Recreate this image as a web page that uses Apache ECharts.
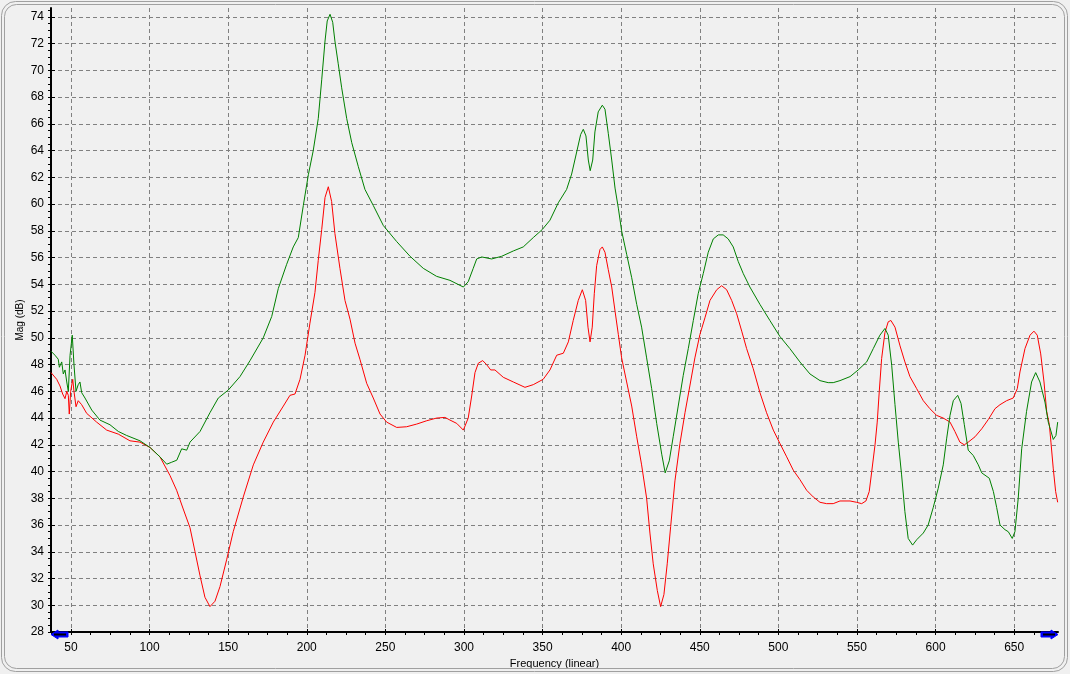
<!DOCTYPE html>
<html>
<head>
<meta charset="utf-8">
<script src="https://cdn.jsdelivr.net/npm/echarts@6/dist/echarts.min.js"></script>
<style>
html,body{margin:0;padding:0;background:#f0f0f0;}
#chart{width:1070px;height:674px;}
</style>
</head>
<body>
<div id="chart"></div>
<script>
// Green trace (frequency in Hz, magnitude in dB)
const greenFreq = [37.3,39.8,41.9,42.6,44.1,45.1,46.2,47.3,48.3,49.4,50.8,51.9,53.2,54.6,55.7,56.8,58.9,63.2,68.4,74.8,80.1,85.4,93.9,100.3,106.6,110.9,114.1,117.3,120.4,123.6,125.7,132.1,138.4,143.7,150.1,157.5,163.9,172.3,177.7,181.9,187.2,191.4,194.6,197.8,201.0,204.1,207.3,209.5,211.6,213.0,214.8,216.5,217.9,220.0,222.2,225.4,228.6,232.8,237.0,242.3,248.7,257.2,265.7,274.1,282.6,291.1,299.6,302.7,305.9,308.1,311.3,317.6,324.0,331.4,337.7,344.1,349.8,354.7,360.0,365.3,368.5,371.7,374.2,375.9,377.6,379.1,380.3,381.9,383.3,385.4,388.0,389.7,391.8,394.0,396.1,398.2,400.3,403.5,406.7,409.9,413.0,416.2,419.4,422.6,425.8,428.0,430.6,433.1,436.3,439.5,442.7,445.9,449.0,452.2,455.4,458.6,461.8,464.9,468.1,471.3,474.5,477.7,481.9,488.3,494.6,501.0,507.3,513.7,520.1,526.5,531.7,534.9,539.2,545.6,550.8,556.2,560.4,564.6,567.8,569.9,572.1,574.2,576.3,578.4,580.5,582.6,585.4,588.0,592.2,595.3,598.5,601.7,604.9,607.1,609.2,611.3,614.1,616.2,618.3,620.8,624.0,627.2,629.4,634.2,636.8,638.9,641.0,644.2,646.3,648.8,650.5,652.6,654.8,657.9,661.1,663.7,666.4,669.6,671.7,673.2,674.9,676.6,677.7];
const greenMag = [49.0,48.7,48.4,47.8,48.2,47.3,47.6,46.7,46.0,48.7,50.2,48.0,46.0,46.5,46.7,45.9,45.5,44.6,43.85,43.5,43.0,42.7,42.3,41.8,41.1,40.55,40.7,40.85,41.7,41.6,42.2,43.0,44.4,45.5,46.1,47.1,48.3,50.0,51.6,53.7,55.5,56.8,57.5,59.9,62.2,64.0,66.4,69.3,72.2,73.7,74.2,73.6,72.2,70.5,68.7,66.4,64.6,62.8,61.1,59.9,58.4,57.2,56.1,55.2,54.6,54.3,53.8,54.2,55.2,55.9,56.05,55.9,56.1,56.5,56.8,57.5,58.1,58.8,60.1,61.1,62.25,63.9,65.2,65.6,65.1,63.3,62.5,63.3,65.4,66.9,67.4,67.1,65.3,63.3,61.2,59.7,58.0,56.25,54.5,52.5,50.8,48.5,46.2,43.6,41.3,39.9,40.8,42.6,44.9,47.2,49.2,51.3,53.3,54.8,56.4,57.4,57.7,57.7,57.4,56.8,55.7,54.8,53.8,52.5,51.3,50.1,49.2,48.2,47.3,46.8,46.65,46.65,46.8,47.1,47.6,48.2,49.2,50.2,50.7,50.2,47.95,45.0,42.2,39.75,37.0,35.0,34.5,34.9,35.4,36.0,37.3,38.75,40.5,42.5,44.2,45.3,45.7,45.1,43.5,41.6,41.2,40.5,39.9,39.5,38.5,37.3,36.0,35.65,35.5,35.0,35.5,38.0,41.7,44.5,46.7,47.4,46.7,45.2,43.7,43.1,42.4,42.7,43.7];

// Red trace (frequency in Hz, magnitude in dB)
const redFreq = [37.3,40.9,43.0,44.7,46.2,47.3,48.3,48.9,49.8,51.1,51.9,53.2,54.6,56.8,60.0,66.3,72.7,80.1,87.5,93.9,100.3,106.6,113.0,117.2,121.4,125.7,128.9,132.1,135.2,138.4,141.6,144.8,149.0,153.2,159.6,166.0,172.3,178.7,185.1,189.3,192.5,195.7,198.9,202.0,205.2,207.3,209.5,211.6,213.7,215.8,217.9,221.1,224.3,227.5,230.7,233.8,238.1,242.3,246.6,250.8,257.2,263.5,269.9,276.3,282.6,287.9,291.1,295.4,299.6,302.7,304.9,307.0,309.1,311.9,314.4,317.0,319.7,325.0,331.4,338.8,344.1,350.4,354.7,359.0,363.2,366.4,369.5,372.7,375.3,377.4,378.9,380.2,381.6,382.9,384.4,386.5,388.0,389.7,391.8,394.0,396.1,398.2,400.3,403.5,406.7,409.9,413.0,416.2,418.3,420.4,423.0,425.1,427.2,429.3,431.5,434.2,437.4,440.6,443.7,446.9,450.1,453.3,456.5,460.8,463.9,467.1,470.3,473.5,476.7,479.8,484.0,488.3,492.5,496.8,501.0,505.3,509.5,513.7,518.0,522.2,526.5,530.7,534.9,539.2,545.6,549.8,553.0,555.7,557.8,559.4,561.5,562.9,564.2,565.7,567.8,569.9,571.6,574.2,577.4,580.5,583.7,588.0,592.2,596.4,600.7,604.9,609.2,612.3,615.5,618.3,620.8,625.1,629.4,633.6,637.8,641.0,645.2,649.4,652.0,653.7,656.9,660.1,662.6,664.7,666.9,669.0,670.7,672.4,673.4,674.9,676.4,677.7];
const redMag = [47.4,46.9,46.4,45.8,45.45,46.0,45.7,44.3,46.0,46.9,46.0,44.85,45.3,45.0,44.35,43.7,43.1,42.8,42.3,42.2,41.8,41.1,39.7,38.6,37.2,35.8,34.0,32.2,30.6,29.9,30.3,31.4,33.4,35.5,38.1,40.5,42.2,43.7,44.9,45.7,45.8,46.9,48.7,51.1,53.4,55.8,58.1,60.5,61.3,60.2,57.8,55.2,52.8,51.4,49.6,48.4,46.6,45.5,44.3,43.7,43.3,43.35,43.55,43.8,44.0,44.05,43.85,43.6,43.1,44.0,45.65,47.4,48.1,48.3,48.0,47.6,47.6,47.05,46.7,46.3,46.5,46.9,47.6,48.7,48.85,49.7,51.3,52.8,53.6,52.8,50.8,49.7,50.8,53.3,55.4,56.6,56.8,56.4,55.1,53.8,52.0,50.25,48.5,46.7,44.9,42.6,40.5,38.0,35.4,33.1,31.1,29.9,30.8,33.1,35.9,39.3,42.1,44.4,46.4,48.5,50.25,51.5,52.8,53.6,53.9,53.6,52.8,51.8,50.5,49.2,47.7,45.9,44.4,43.1,42.1,41.1,40.1,39.4,38.6,38.1,37.7,37.6,37.6,37.8,37.8,37.7,37.6,37.8,38.5,40.0,42.0,43.7,46.0,48.45,50.4,51.2,51.3,50.8,49.4,48.2,47.1,46.2,45.3,44.7,44.2,44.0,43.7,43.0,42.2,42.0,42.2,42.6,43.2,43.9,44.7,45.0,45.3,45.5,46.2,47.45,49.2,50.2,50.5,50.2,48.8,46.7,44.5,43.5,42.2,40.2,38.5,37.7];

// Axis ticks
const xLabels = [50,100,150,200,250,300,350,400,450,500,550,600,650];
const xMinor = [37.5,50,62.5,75,87.5,100,112.5,125,137.5,150,162.5,175,187.5,200,212.5,225,237.5,250,262.5,275,287.5,300,312.5,325,337.5,350,362.5,375,387.5,400,412.5,425,437.5,450,462.5,475,487.5,500,512.5,525,537.5,550,562.5,575,587.5,600,612.5,625,637.5,650,662.5,675];
const yLabels = [28,30,32,34,36,38,40,42,44,46,48,50,52,54,56,58,60,62,64,66,68,70,72,74];
const yMinor = [];
for (let i = 0; i <= 93; i++) yMinor.push(28 + i * 0.5);

const X_MIN = 37.28, X_MAX = 677.9, Y_MIN = 28, Y_MAX = 74.67;

const zip = (a, b) => a.map((v, i) => [v, b[i]]);

const chart = echarts.init(document.getElementById('chart'), null, {renderer: 'canvas'});
const font = 'Liberation Sans, Arial, sans-serif';

chart.setOption({
  backgroundColor: '#f0f0f0',
  animation: false,
  grid: {left: 51, right: 12, top: 8, bottom: 40, containLabel: false},
  xAxis: [{
    type: 'value', min: X_MIN, max: X_MAX, position: 'bottom',
    name: 'Frequency (linear)', nameLocation: 'middle', nameGap: 26, nameMoveOverlap: false,
    nameTextStyle: {color: '#000', fontSize: 11, fontFamily: font},
    axisLine: {show: true, onZero: false, lineStyle: {color: '#000', width: 2}},
    axisTick: {show: true, inside: true, length: 3, customValues: xLabels, lineStyle: {color: '#000'}},
    axisLabel: {show: true, customValues: xLabels, color: '#000', fontSize: 12, fontFamily: font, margin: 10},
    splitLine: {show: true, lineStyle: {color: '#808080', type: [4, 3], width: 1}}
  }, {
    type: 'value', min: X_MIN, max: X_MAX, position: 'bottom',
    axisLine: {show: false},
    axisTick: {show: true, inside: false, length: 3, customValues: xMinor, lineStyle: {color: '#000'}},
    axisLabel: {show: false},
    splitLine: {show: false}
  }],
  yAxis: [{
    type: 'value', min: Y_MIN, max: Y_MAX, position: 'left',
    name: 'Mag (dB)', nameLocation: 'middle', nameGap: 26, nameMoveOverlap: false,
    nameTextStyle: {color: '#000', fontSize: 10, fontFamily: font},
    axisLine: {show: true, onZero: false, lineStyle: {color: '#000', width: 2}},
    axisTick: {show: true, inside: true, length: 4, customValues: yLabels, lineStyle: {color: '#000'}},
    axisLabel: {show: true, customValues: yLabels, color: '#000', fontSize: 12, fontFamily: font, margin: 7},
    splitLine: {show: true, lineStyle: {color: '#808080', type: [4, 3], width: 1}}
  }, {
    type: 'value', min: Y_MIN, max: Y_MAX, position: 'left',
    axisLine: {show: false},
    axisTick: {show: true, inside: false, length: 3, customValues: yMinor, lineStyle: {color: '#000'}},
    axisLabel: {show: false},
    splitLine: {show: false}
  }],
  series: [{
    type: 'line', name: 'red', data: zip(redFreq, redMag), xAxisIndex: 0, yAxisIndex: 0,
    showSymbol: false, symbol: 'none', smooth: false,
    lineStyle: {color: '#ff0000', width: 1}, z: 3
  }, {
    type: 'line', name: 'green', data: zip(greenFreq, greenMag), xAxisIndex: 0, yAxisIndex: 0,
    showSymbol: false, symbol: 'none', smooth: false,
    lineStyle: {color: '#008000', width: 1}, z: 4
  }],
  graphic: [
    {type: 'rect', shape: {x: 1.5, y: 1.5, width: 1066, height: 670, r: 14}, style: {fill: 'none', stroke: '#a0a0a0', lineWidth: 1}, silent: true, z: 100},
    {type: 'rect', shape: {x: 4.5, y: 4.5, width: 1060, height: 664, r: 12}, style: {fill: 'none', stroke: '#a0a0a0', lineWidth: 1}, silent: true, z: 100},
    // axis end arrows
    {type: 'polygon', shape: {points: [[51,634.5],[58,630],[58,632],[68,632],[68,637],[58,637],[58,639]]}, style: {fill: '#0000ff', stroke: '#0000ff'}, silent: true, z: 100},
    {type: 'line', shape: {x1: 54, y1: 634.5, x2: 66, y2: 634.5}, style: {stroke: '#000', lineWidth: 2}, silent: true, z: 101},
    {type: 'polygon', shape: {points: [[1058,634.5],[1051,630],[1051,632],[1041,632],[1041,637],[1051,637],[1051,639]]}, style: {fill: '#0000ff', stroke: '#0000ff'}, silent: true, z: 100},
    {type: 'line', shape: {x1: 1043, y1: 634.5, x2: 1055, y2: 634.5}, style: {stroke: '#000', lineWidth: 2}, silent: true, z: 101}
  ]
});
</script>
</body>
</html>
